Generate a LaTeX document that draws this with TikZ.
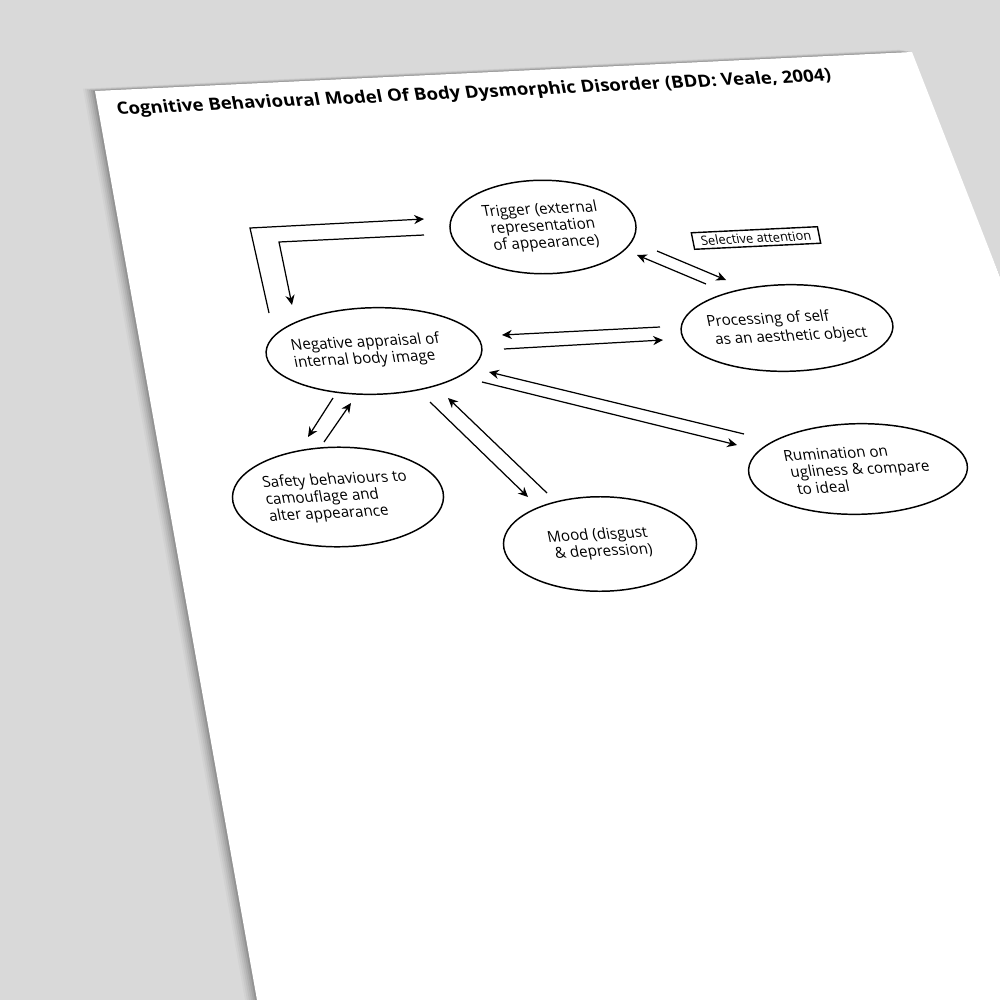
\documentclass[tikz,border=0pt]{standalone}
\usepackage{fontspec}
\setmainfont{Open Sans}
\usetikzlibrary{shapes.geometric,arrows.meta}
\definecolor{bg}{RGB}{217,217,217}
\begin{document}
\begin{tikzpicture}[x=0.01cm,y=0.01cm,
  pg/.style={cm={1,0.048,-0.2,1,(0,0)}},
  bub/.style={pg,ellipse,draw,line width=0.42pt,inner xsep=-0.4cm,inner ysep=-0.2cm,align=left,
    font=\fontsize{4.3pt}{4.75pt}\selectfont},
  arr/.style={line width=0.35pt,-{Stealth[length=2.8pt,width=2.6pt,inset=0.9pt]}},
  ln/.style={line width=0.35pt}]
\fill[bg] (0,0) rectangle (1000,-1000);
\useasboundingbox (0,0) rectangle (1000,-1000);
% shadow of the sheet
\foreach \d/\o in {12/0.03,10/0.04,8/0.05,6/0.06,4/0.08,2/0.10}{
  \fill[black,opacity=\o] (95-\d,-91+0.2*\d) -- (912-\d,-52+0.2*\d) -- (1000,-277) -- (1000,-1000) -- (257-\d,-1000) -- cycle;
}
% sheet
\fill[white] (95,-91) -- (912,-52) -- (1000,-277) -- (1000,-1000) -- (257,-1000) -- cycle;

% title
\node[pg,xscale=1.1,anchor=base west,inner sep=0pt,font=\bfseries\fontsize{4.8pt}{5.4pt}\selectfont] (title) at (117,-115)
  {Cognitive Behavioural Model Of Body Dysmorphic Disorder (BDD: Veale, 2004)};

% ellipses
\node[bub,align=center,minimum width=1.85cm,minimum height=0.93cm] (trig) at (543,-227)
  {Trigger (external\\representation\\of appearance)};
\node[bub,minimum width=2.11cm,minimum height=0.86cm] (proc) at (787,-328)
  {Processing of self\\[0.4pt]\hspace*{1.4pt}as an aesthetic object};
\node[bub,minimum width=2.15cm,minimum height=0.86cm] (neg) at (374,-351)
  {Negative appraisal of\hspace*{4pt}\\internal body image};
\node[bub,minimum width=2.10cm,minimum height=0.99cm] (safe) at (338,-497)
  {Safety behaviours to\\camouflage and\\alter appearance};
\node[bub,minimum width=1.92cm,minimum height=0.94cm] (mood) at (600,-544)
  {Mood (disgust\\\hspace*{1.2pt}\& depression)};
\node[bub,minimum width=2.18cm,minimum height=0.90cm] (rum) at (858,-469)
  {Rumination on\\\hspace*{1pt}ugliness \& compare\\\hspace*{2pt}to ideal};
\node[pg,draw,line width=0.4pt,inner sep=0pt,minimum width=1.26cm,minimum height=0.165cm,
  font=\fontsize{3.65pt}{4pt}\selectfont] (sel) at (756,-238) {Selective attention};

% connector end points
\coordinate (b1) at (269,-313); \coordinate (b2) at (250,-228); \coordinate (b3) at (424,-219);
\coordinate (c1) at (424,-235); \coordinate (c2) at (279,-242); \coordinate (c3) at (292,-305);
\coordinate (pn1) at (660,-327); \coordinate (pn2) at (502,-335);
\coordinate (np1) at (504,-349); \coordinate (np2) at (663,-340);
\coordinate (pt1) at (706,-284); \coordinate (pt2) at (637,-255);
\coordinate (tp1) at (657,-251); \coordinate (tp2) at (726,-280);
\coordinate (ns1) at (333,-398); \coordinate (ns2) at (308,-437);
\coordinate (sn1) at (324,-442); \coordinate (sn2) at (351,-403);
\coordinate (nm1) at (430,-402); \coordinate (nm2) at (528,-497);
\coordinate (mn1) at (547,-493); \coordinate (mn2) at (448,-398);
\coordinate (rn1) at (744,-434); \coordinate (rn2) at (489,-372);
\coordinate (nr1) at (482,-382); \coordinate (nr2) at (737,-445);

% connectors
\draw[arr] (b1) -- (b2) -- (b3);
\draw[arr] (c1) -- (c2) -- (c3);
\draw[arr] (pn1) -- (pn2);
\draw[arr] (np1) -- (np2);
\draw[arr] (pt1) -- (pt2);
\draw[arr] (tp1) -- (tp2);
\draw[arr] (ns1) -- (ns2);
\draw[arr] (sn1) -- (sn2);
\draw[arr] (nm1) -- (nm2);
\draw[arr] (mn1) -- (mn2);
\draw[arr] (rn1) -- (rn2);
\draw[arr] (nr1) -- (nr2);
\end{tikzpicture}
\end{document}
